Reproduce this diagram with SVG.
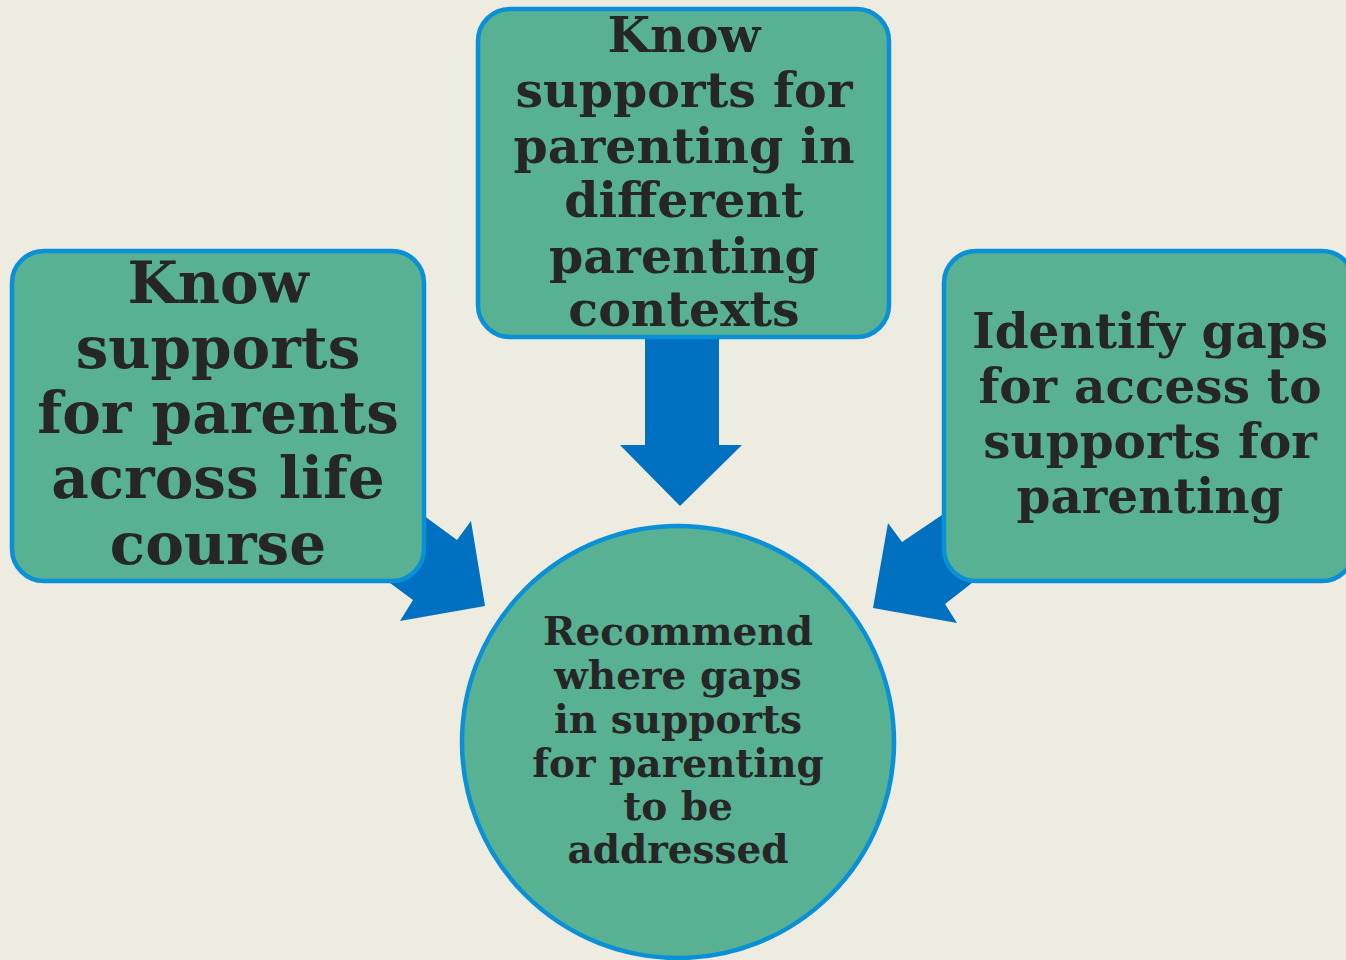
<svg xmlns="http://www.w3.org/2000/svg" width="1346" height="960" viewBox="0 0 1346 960">
<style>
.box{fill:#58B193;stroke:#0A90D6;stroke-width:4.5}
.t{font-family:"DejaVu Serif","Liberation Serif",serif;font-weight:bold;fill:#262626;text-anchor:middle}
.arr{fill:#0070C0}
</style>
<rect width="1346" height="960" fill="#EEEBE0"/>
<g id="connectors">
<polygon class="arr" points="645,330 719,330 719,445 742,445 680,506 620,445 645,445"/>
<polygon class="arr" points="360,470 427,518 457,540 471,521 485,606 400,621 413,600 390,583 330,520"/>
<polygon class="arr" points="1000,470 942,515 902,542 888,523 873,608 957,623 945,604 972,583 1020,550"/>
</g>
<g id="node-left">
<rect class="box" x="12" y="251" width="412" height="330" rx="32"/>
<text class="t" font-size="58"><tspan x="218" y="303">Know</tspan><tspan x="218" y="368">supports</tspan><tspan x="218" y="433">for parents</tspan><tspan x="218" y="498">across life</tspan><tspan x="218" y="564">course</tspan></text>
</g>
<g id="node-top">
<rect class="box" x="478" y="9" width="411" height="328" rx="32"/>
<text class="t" font-size="49"><tspan x="684" y="52">Know</tspan><tspan x="684" y="107">supports for</tspan><tspan x="684" y="163">parenting in</tspan><tspan x="684" y="217">different</tspan><tspan x="684" y="273">parenting</tspan><tspan x="684" y="326">contexts</tspan></text>
</g>
<g id="node-right">
<rect class="box" x="944" y="251" width="410" height="330" rx="32"/>
<text class="t" font-size="48.5"><tspan x="1150" y="348">Identify gaps</tspan><tspan x="1150" y="403">for access to</tspan><tspan x="1150" y="458">supports for</tspan><tspan x="1150" y="513">parenting</tspan></text>
</g>
<g id="node-center">
<circle class="box" cx="678" cy="742" r="216"/>
<text class="t" font-size="39"><tspan x="678" y="645">Recommend</tspan><tspan x="678" y="689">where gaps</tspan><tspan x="678" y="733">in supports</tspan><tspan x="678" y="777">for parenting</tspan><tspan x="678" y="820">to be</tspan><tspan x="678" y="863">addressed</tspan></text>
</g>
</svg>
